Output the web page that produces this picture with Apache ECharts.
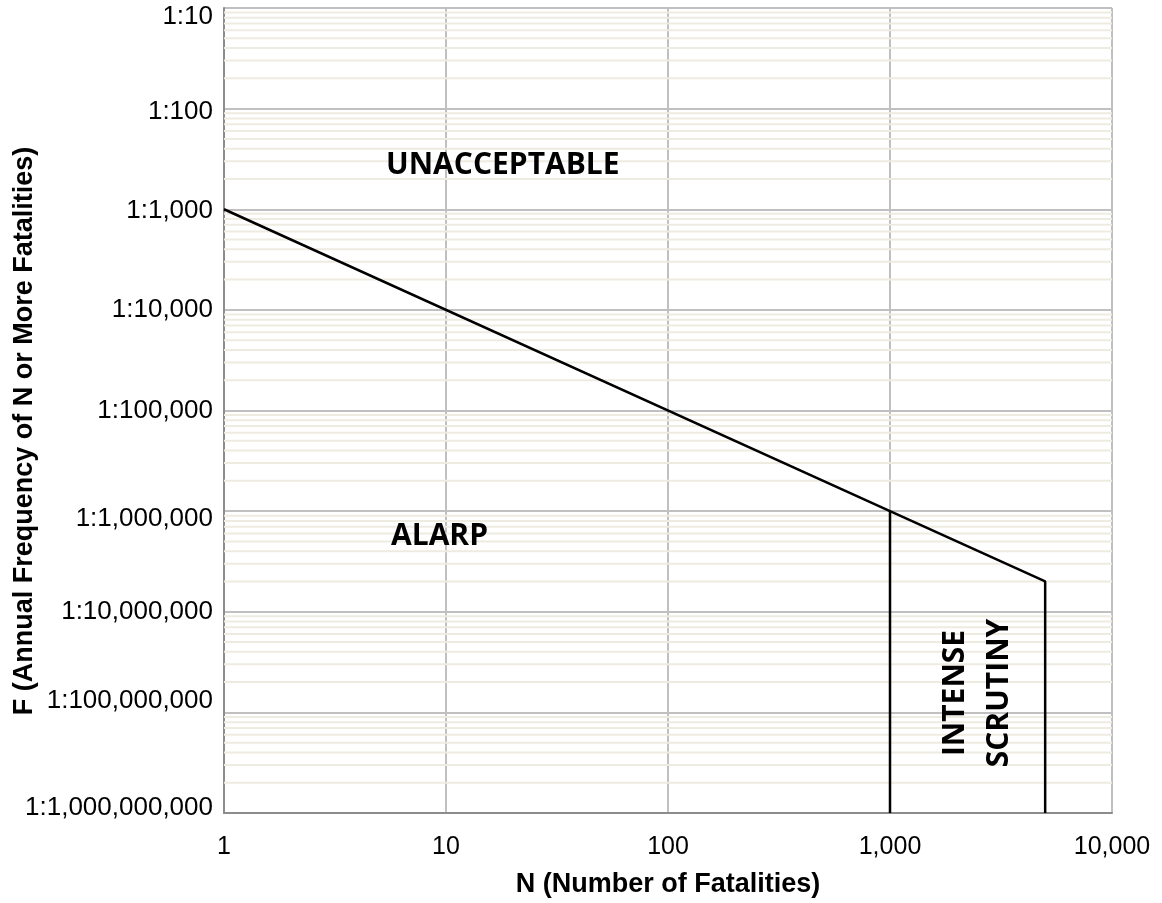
<!DOCTYPE html>
<html><head><meta charset="utf-8">
<script src="https://cdn.jsdelivr.net/npm/echarts@6/dist/echarts.min.js"></script>
<style>html,body{margin:0;padding:0;background:#fff}#c{width:1162px;height:903px}</style>
</head><body><div id="c"></div>
<script>
// Criterion line (N, F)
const criterionN = [1, 1000, 5000, 5000];
const criterionF = [1e-3, 1e-6, 2e-7, 1e-9];
// Vertical boundary at N = 1000
const boundaryN = [1000, 1000];
const boundaryF = [1e-6, 1e-9];
// Decades for minor gridlines
const minorDecades = [1e-9, 1e-8, 1e-7, 1e-6, 1e-5, 1e-4, 1e-3, 1e-2];
const minorMultipliers = [2, 3, 4, 5, 6, 7, 8, 9];
const xRange = [1, 10000];

// label vertical nudges (px, + = down), by exponent, to mimic the reference layout
const labelNudge = {'-1': 9, '-2': 3, '-3': 2, '-4': 0, '-5': 0, '-6': 8, '-7': 0, '-8': -12, '-9': -5};

const minorSeries = [];
minorDecades.forEach(d => minorMultipliers.forEach(m => {
  const v = m * d;
  minorSeries.push({
    type: 'line', silent: true, showSymbol: false, z: 1,
    lineStyle: {color: '#eeebe1', width: 2},
    data: [[xRange[0], v], [xRange[1], v]]
  });
}));

const rich = {};
Object.keys(labelNudge).forEach(k => {
  const o = labelNudge[k];
  rich['e' + (-k)] = {
    fontFamily: '"Liberation Sans", Arial, sans-serif', fontSize: 26, color: '#000',
    padding: o >= 0 ? [2 * o, 0, 0, 0] : [0, 0, -2 * o, 0]
  };
});

const chart = echarts.init(document.getElementById('c'));
const labelFont = '"Liberation Sans", Arial, sans-serif';
const textFont = '"Open Sans", sans-serif';
chart.setOption({
  animation: false,
  grid: {left: 224, right: 50, top: 8, bottom: 90, containLabel: false, outerBoundsMode: 'none'},
  xAxis: {
    type: 'log', logBase: 10, min: 1, max: 10000,
    name: 'N (Number of Fatalities)', nameLocation: 'middle', nameGap: 58,
    nameTextStyle: {fontFamily: labelFont, fontWeight: 'bold', fontSize: 27, color: '#000'},
    axisLine: {show: true, lineStyle: {color: '#8c8c8c', width: 2}},
    axisTick: {show: false},
    axisLabel: {fontFamily: labelFont, fontSize: 25, color: '#000', margin: 22,
      formatter: v => Math.round(v).toLocaleString('en-US')},
    splitLine: {show: true, lineStyle: {color: '#c0c0c0', width: 2}}
  },
  yAxis: {
    type: 'log', logBase: 10, min: 1e-9, max: 0.1,
    axisLine: {show: true, lineStyle: {color: '#8c8c8c', width: 2}},
    axisTick: {show: false},
    axisLabel: {fontFamily: labelFont, fontSize: 26, color: '#000', margin: 11, rich: rich,
      formatter: v => {
        const e = Math.round(-Math.log10(v));
        return '{e' + e + '|1:' + Math.round(1 / v).toLocaleString('en-US') + '}';
      }},
    splitLine: {show: true, lineStyle: {color: '#c0c0c0', width: 2}}
  },
  series: minorSeries.concat([
    {
      type: 'line', showSymbol: false, z: 5,
      lineStyle: {color: '#000', width: 2.5},
      data: criterionN.map((n, i) => [n, criterionF[i]])
    },
    {
      type: 'line', showSymbol: false, z: 5,
      lineStyle: {color: '#000', width: 2.5},
      data: boundaryN.map((n, i) => [n, boundaryF[i]])
    }
  ]),
  graphic: [
    {type: 'text', x: 25, y: 431, rotation: Math.PI / 2, z: 10,
      style: {text: 'F (Annual Frequency of N or More Fatalities)', font: 'bold 27px ' + labelFont,
        fill: '#000', align: 'center', verticalAlign: 'middle'}},
    {type: 'text', x: 386, y: 165, z: 10,
      style: {text: 'UNACCEPTABLE', font: 'bold 30px ' + textFont, fill: '#000', verticalAlign: 'middle'}},
    {type: 'text', x: 391, y: 536, z: 10,
      style: {text: 'ALARP', font: 'bold 30px ' + textFont, fill: '#000', verticalAlign: 'middle'}},
    {type: 'text', x: 977, y: 693, rotation: Math.PI / 2, z: 10,
      style: {text: 'INTENSE\nSCRUTINY', font: 'bold 30px ' + textFont, fill: '#000',
        align: 'center', verticalAlign: 'middle', lineHeight: 44}}
  ]
});
</script></body></html>
